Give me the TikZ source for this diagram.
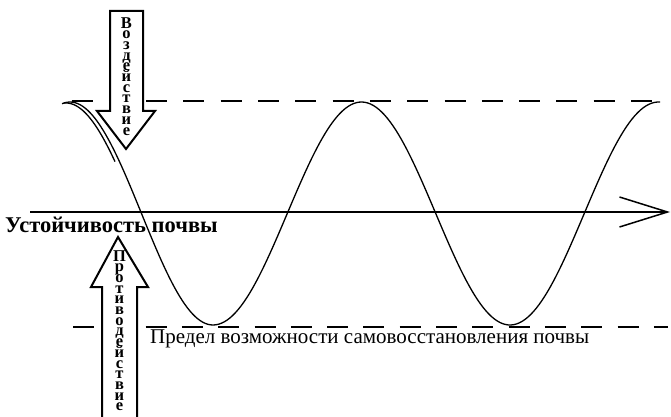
\documentclass[tikz,border=0pt]{standalone}
\usepackage{fontspec}
\setmainfont{Liberation Serif}
\usetikzlibrary{arrows.meta}

\begin{document}
\begin{tikzpicture}[x=1pt,y=-1pt,
  limit/.style={line width=1.2pt},
  wave/.style={line width=1.3pt},
  axis/.style={line width=1.5pt,-{Straight Barb[length=48pt,width=30pt]}},
  blockarrow/.style={line width=2pt,fill=white,line join=miter},
  letters/.style={font={\bfseries\fontsize{16.5}{10.7}\selectfont\lineskiplimit=-20pt},align=center,inner sep=0pt,anchor=north}]
\useasboundingbox (0,0) rectangle (671,417);
% dashed limits
\coordinate (up0) at (71.5,101);
\coordinate (up1) at (660,101);
\coordinate (lo0) at (73,327);
\coordinate (lo1) at (668,327);
\draw[limit,dash pattern=on 21pt off 16.3pt] (up0) -- (up1);
\draw[limit,dash pattern=on 21pt off 15.3pt] (lo0) -- (lo1);
% wave
\draw[wave] plot[domain=62:213,samples=60] (\x,{213.5-111.5*cos((\x-70)*1.25874)})
  -- plot[domain=213:660,samples=160] (\x,{213.5+111.5*cos((\x-213)*1.21212)});
\draw[wave,xshift=-4pt,yshift=-1pt] plot[domain=68:119,samples=30] (\x,{213.5-111.5*cos((\x-70)*1.25874)});
% axis
\coordinate (ax0) at (30,212);
\coordinate (ax1) at (670,212);
\draw[axis] (ax0) -- (ax1);
% block arrows
\draw[blockarrow] (110,11) -- (143,11) -- (143,111) -- (155,111) -- (126,149) -- (97,111) -- (110,111) -- cycle;
\draw[blockarrow] (102,419) -- (102,287) -- (91,287) -- (118,237) -- (148,287) -- (137,287) -- (137,419);
\node[letters] (act) at (126.5,17) {В\\о\\з\\д\\е\\й\\с\\т\\в\\и\\е};
\node[letters] (react) at (119.5,250) {П\\р\\о\\т\\и\\в\\о\\д\\е\\й\\с\\т\\в\\и\\е};
% labels
\node[anchor=base west,inner sep=0pt,font=\bfseries\fontsize{22.5}{26}\selectfont] (stab) at (5,232) {Устойчивость почвы};
\node[anchor=base west,inner sep=0pt,font=\fontsize{21}{25}\selectfont] (lim) at (150,343) {Предел возможности самовосстановления почвы};
\end{tikzpicture}
\end{document}
